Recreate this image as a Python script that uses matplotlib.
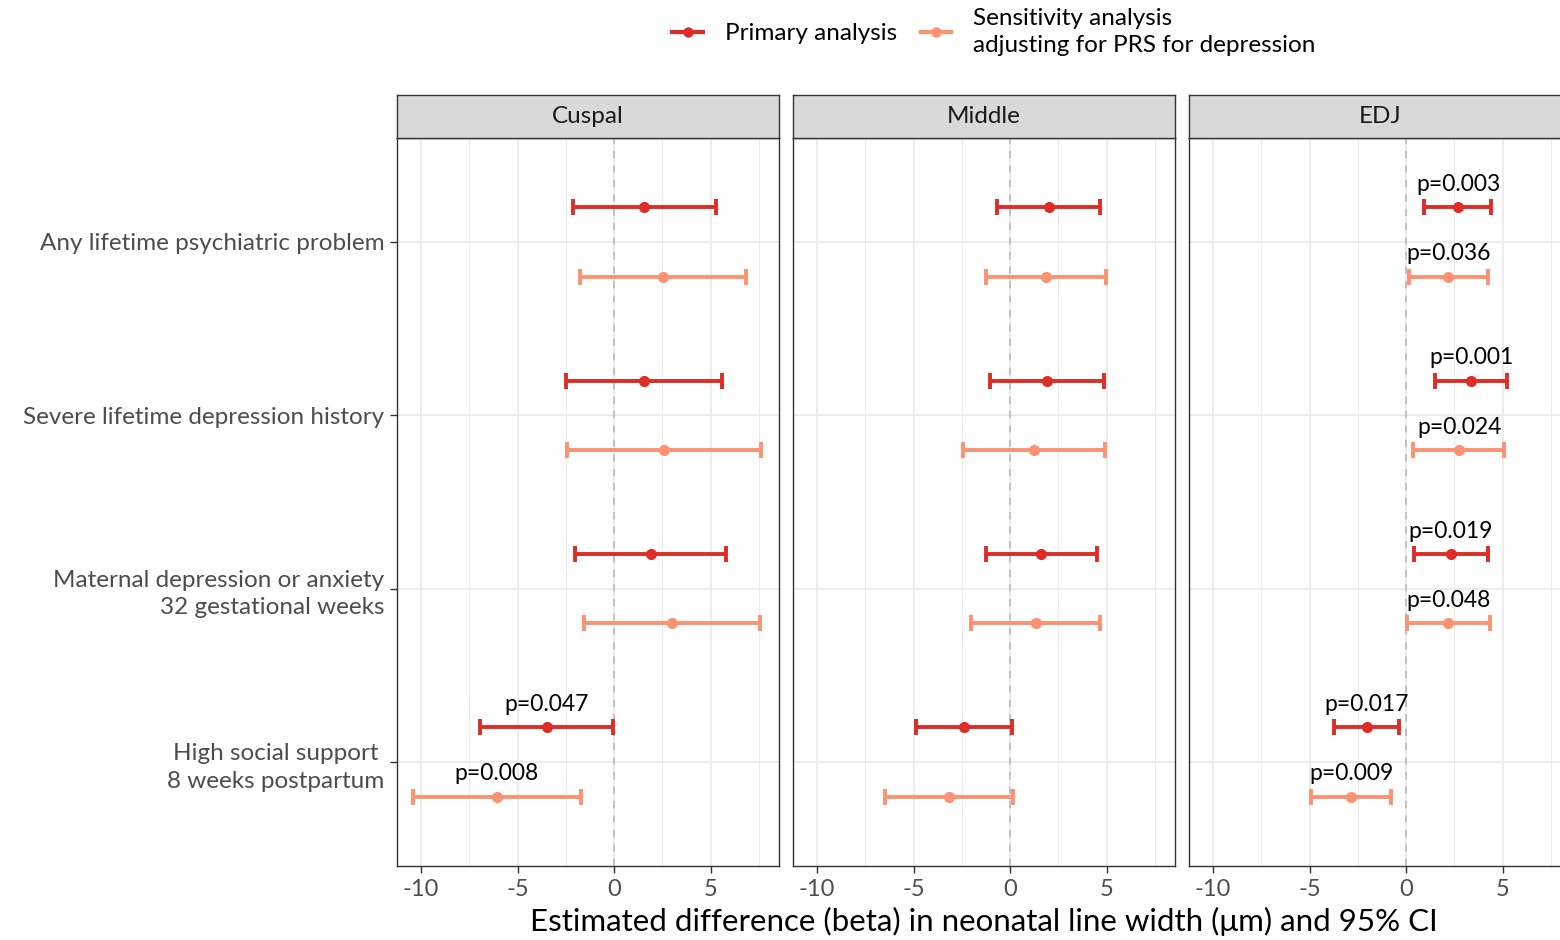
import matplotlib
matplotlib.use("Agg")
import matplotlib.pyplot as plt
from matplotlib.lines import Line2D

plt.rcParams['font.family'] = ['Lato', 'DejaVu Sans']
plt.rcParams['axes.unicode_minus'] = False

# ---------------- data ----------------
panels = ["Cuspal", "Middle", "EDJ"]
outcomes = ["Any lifetime psychiatric problem",
            "Severe lifetime depression history",
            "Maternal depression or anxiety\n32 gestational weeks",
            "High social support \n8 weeks postpartum"]
series_names = ["Primary analysis",
                "Sensitivity analysis\nadjusting for PRS for depression"]

primary_est = [[1.57, 1.57, 1.90, -3.48],
               [2.02, 1.93, 1.62, -2.38],
               [2.70, 3.39, 2.32, -2.04]]
primary_lo = [[-2.12, -2.50, -2.03, -6.95],
              [-0.66, -1.02, -1.24, -4.85],
              [0.93, 1.49, 0.40, -3.72]]
primary_hi = [[5.26, 5.60, 5.81, -0.03],
              [4.66, 4.87, 4.49, 0.10],
              [4.42, 5.25, 4.24, -0.36]]

sens_est = [[2.53, 2.60, 2.98, -6.07],
            [1.88, 1.24, 1.33, -3.17],
            [2.19, 2.75, 2.19, -2.85]]
sens_lo = [[-1.74, -2.42, -1.55, -10.43],
           [-1.26, -2.42, -2.00, -6.49],
           [0.16, 0.38, 0.03, -4.92]]
sens_hi = [[6.85, 7.64, 7.54, -1.69],
           [4.99, 4.90, 4.66, 0.16],
           [4.24, 5.08, 4.37, -0.76]]

primary_p = [[None, None, None, "p=0.047"],
             [None, None, None, None],
             ["p=0.003", "p=0.001", "p=0.019", "p=0.017"]]
sens_p = [[None, None, None, "p=0.008"],
          [None, None, None, None],
          ["p=0.036", "p=0.024", "p=0.048", "p=0.009"]]

x_ticks = [-10, -5, 0, 5]
x_tick_labels = ["-10", "-5", "0", "5"]
x_minor = [-7.5, -2.5, 2.5, 7.5]

# ---------------- style ----------------
col_primary = "#DE2D26"
col_sens = "#FC9272"
grid_col = "#EBEBEB"
border_col = "#333333"
text_grey = "#4D4D4D"

W, H = 1560, 940
fig = plt.figure(figsize=(W / 100, H / 100), dpi=100)

panel_left_px = [397, 793, 1189]
panel_w_px = 382
panel_top_px, panel_bot_px = 138, 866
strip_top_px = 95

cat_y = [4, 3, 2, 1]
dodge = 0.2
p_off = 0.095

for i, name in enumerate(panels):
    l = panel_left_px[i] / W
    b = 1 - panel_bot_px / H
    w = panel_w_px / W
    h = (panel_bot_px - panel_top_px) / H
    ax = fig.add_axes([l, b, w, h])
    ax.set_xlim(-11.25, 8.55)
    ax.set_ylim(0.4, 4.6)

    # grid
    for xv in x_minor:
        ax.axvline(xv, color=grid_col, lw=0.7, zorder=0)
    for xv in x_ticks:
        ax.axvline(xv, color=grid_col, lw=1.3, zorder=0)
    for yv in cat_y:
        ax.axhline(yv, color=grid_col, lw=1.3, zorder=0)
    ax.axvline(0, color="#BDBDBD", lw=1.3, ls=(0, (4, 4)), zorder=1)

    yp = [y + dodge for y in cat_y]
    ys = [y - dodge for y in cat_y]
    for est, lo, hi, yy, col in [
        (primary_est[i], primary_lo[i], primary_hi[i], yp, col_primary),
        (sens_est[i], sens_lo[i], sens_hi[i], ys, col_sens)]:
        xerr = [[e - a for e, a in zip(est, lo)], [c - e for e, c in zip(est, hi)]]
        ax.errorbar(est, yy, xerr=xerr, fmt='o', color=col, ecolor=col,
                    elinewidth=2.8, capsize=5.5, capthick=2.8, markersize=7,
                    zorder=3)

    for est, labs, yy in [(primary_est[i], primary_p[i], yp),
                          (sens_est[i], sens_p[i], ys)]:
        for e, lab, y in zip(est, labs, yy):
            if lab:
                ax.text(e, y + p_off, lab, ha='center', va='baseline',
                        fontsize=16.5, color='black', zorder=4)

    ax.set_xticks(x_ticks)
    ax.set_xticklabels(x_tick_labels, fontsize=17, color=text_grey)
    ax.set_yticks(cat_y)
    if i == 0:
        ax.set_yticklabels(outcomes, fontsize=17.5, color=text_grey,
                           linespacing=1.4)
    else:
        ax.set_yticklabels([])
        ax.tick_params(axis='y', left=False)
    ax.tick_params(axis='both', length=5, width=1, color=border_col, pad=4)
    for sp in ax.spines.values():
        sp.set_color(border_col)
        sp.set_linewidth(1.0)

    # strip
    sax = fig.add_axes([l, 1 - panel_top_px / H, w,
                        (panel_top_px - strip_top_px) / H])
    sax.set_facecolor("#D9D9D9")
    sax.set_xticks([])
    sax.set_yticks([])
    for sp in sax.spines.values():
        sp.set_color(border_col)
        sp.set_linewidth(1.0)
    sax.text(0.5, 0.5, name, ha='center', va='center', fontsize=17.5,
             color="#1A1A1A", transform=sax.transAxes)

fig.text(984 / W, 1 - 921 / H,
         "Estimated difference (beta) in neonatal line width (\u03bcm) and 95% CI",
         ha='center', va='center', fontsize=22.5, color='black')

handles = [Line2D([0], [0], color=col_primary, lw=3, marker='o', markersize=6.5),
           Line2D([0], [0], color=col_sens, lw=3, marker='o', markersize=6.5)]
leg = fig.legend(handles, series_names, loc='center',
                 bbox_to_anchor=(994 / W, 1 - 32 / H),
                 ncol=2, frameon=False, fontsize=17.5, handlelength=1.25,
                 handletextpad=0.9, columnspacing=1.0)
for t in leg.get_texts():
    t.set_linespacing(1.3)

fig.savefig("out.png", dpi=100)
